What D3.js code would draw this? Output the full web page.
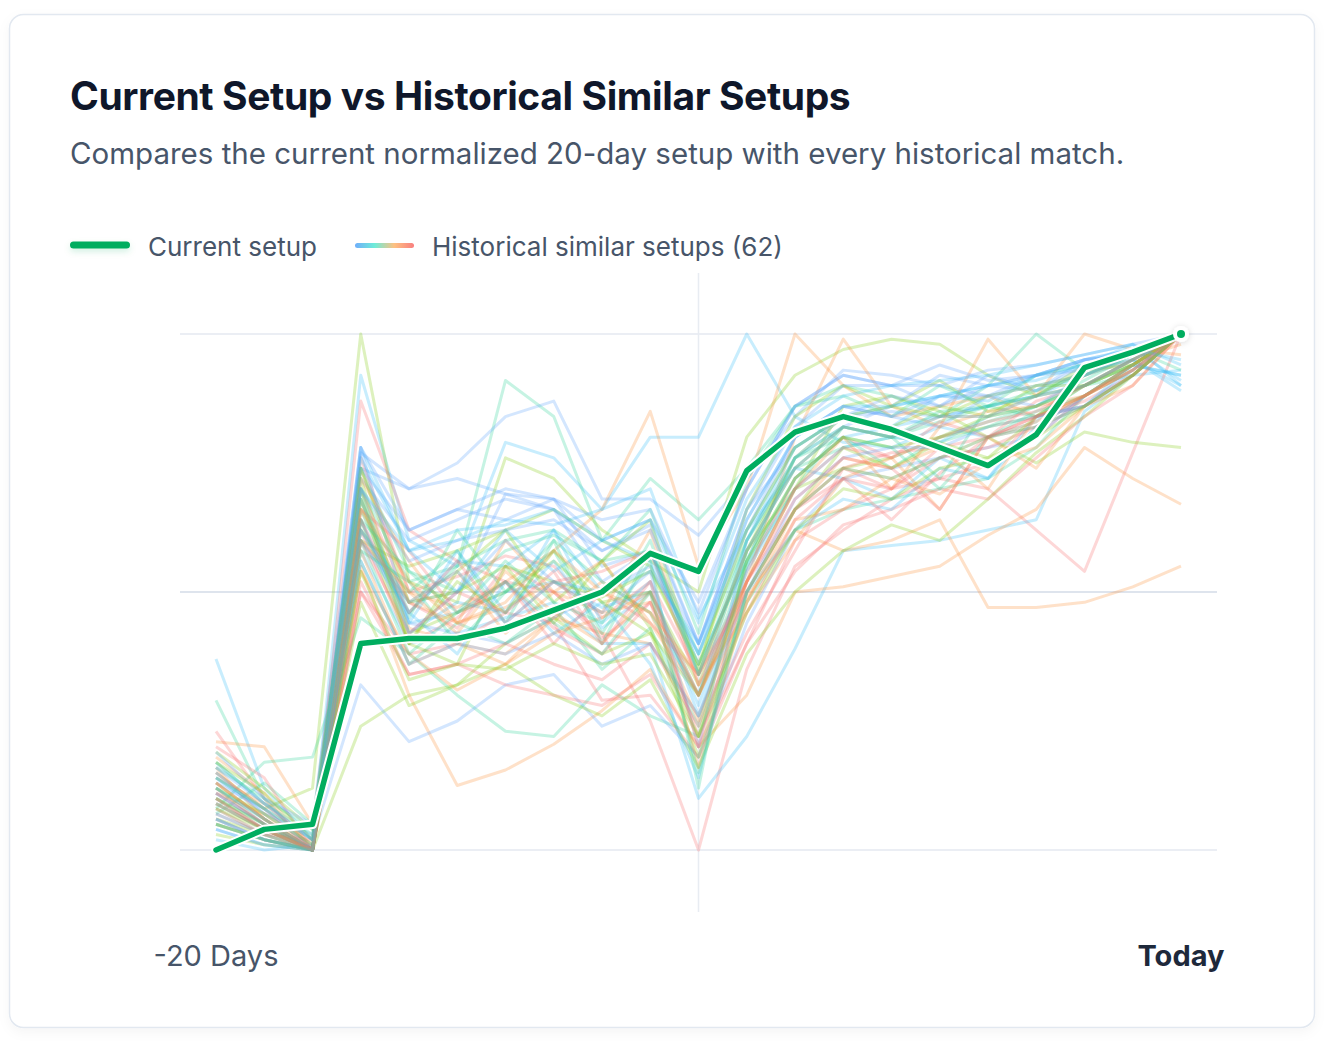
<!DOCTYPE html>
<html>
<head>
<meta charset="utf-8">
<script src="https://cdn.jsdelivr.net/npm/d3@7"></script>
<style>
  body { margin: 0; background: #fff; font-family: Inter, "Noto Sans", sans-serif; }
</style>
</head>
<body>
<svg id="chart" width="1332" height="1050"></svg>
<script>
// x axis: days back from today (-20 .. 0)
const days = d3.range(-20, 1)
const xLabels = ["-20 Days", "Today"]

// current normalized 20-day setup
const current = [0, 0.04, 0.05, 0.40, 0.41, 0.41, 0.43, 0.465, 0.50, 0.575, 0.54, 0.735, 0.81, 0.84, 0.815, 0.78, 0.745, 0.805, 0.935, 0.965, 1]

// historical matches (62), normalized the same way
const historical = [
  [.12,.05,0,.77,.70,.72,.69,.68,.55,.58,.40,.66,.78,.84,.85,.84,.86,.88,.93,.97,1],
  [.37,.12,.02,.92,.60,.55,.79,.76,.66,.80,.80,1,.84,.79,.78,.82,.80,.83,.93,.95,.90],
  [.29,.10,0,.68,.46,.55,.91,.84,.60,.72,.64,.74,.86,.90,.88,.84,.90,1,.93,.96,1],
  [.15,.08,.12,1,.52,.48,.76,.72,.62,.56,.50,.80,.92,.97,.99,.98,.92,.88,.94,.96,1],
  [.21,.20,.05,.74,.50,.47,.52,.58,.66,.85,.55,.70,1,.90,.84,.86,.88,.84,.92,.95,.98],
  [.23,.10,0,.87,.62,.56,.52,.50,.42,.25,0,.35,.55,.62,.68,.72,.70,.62,.54,.77,1],
  [.17,.09,.02,.74,.70,.75,.84,.87,.68,.68,.61,.72,.84,.93,.92,.90,.88,.92,.95,.97,1],
  [.10,.04,0,.58,.40,.42,.45,.48,.40,.40,.10,.22,.39,.58,.59,.60,.62,.64,.85,.92,.93],
  [.08,.17,.18,.45,.38,.30,.23,.22,.32,.26,.22,.48,.62,.66,.68,.70,.72,.78,.88,.94,1],
  [.06,.03,0,.24,.30,.32,.40,.45,.38,.42,.30,.52,.70,.86,.88,.85,.80,.75,.81,.79,.78],
  [.18,.11,0,.55,.30,.125,.155,.205,.27,.35,.20,.30,.50,.51,.53,.55,.61,.66,.78,.72,.67],
  [.05,.02,0,.50,.38,.40,.46,.44,.29,.30,.18,.40,.60,.66,.70,.72,.75,.80,.88,.94,1],
  [.14,.07,.03,.60,.48,.50,.69,.66,.52,.58,.36,.56,.76,.82,.86,.92,.90,.89,.94,.96,1],
  [.11,.05,0,.64,.44,.46,.50,.52,.47,.50,.28,.55,.72,.80,.82,.84,.86,.88,.92,.95,.89],
  [.07,.13,.05,.70,.52,.55,.60,.62,.56,.58,.38,.60,.74,.78,.80,.79,.82,.86,.91,.96,1],
  [.19,.12,.04,.72,.42,.46,.50,.56,.48,.50,.32,.58,.70,.74,.76,.80,.82,.84,.90,.94,1],
  [.16,.06,0,.66,.48,.44,.47,.52,.46,.48,.30,.49,.62,.58,.60,.64,.47,.47,.48,.51,.55],
  [.09,.04,0,.76,.50,.53,.57,.55,.45,.52,.34,.52,.66,.74,.77,.78,.80,.82,.88,.93,1],
  [.13,.08,.02,.32,.21,.25,.32,.34,.24,.28,.18,.44,.62,.72,.74,.76,.78,.80,.88,.94,1],
  [.04,.01,0,.78,.58,.60,.64,.63,.66,.70,.45,.62,.78,.84,.86,.88,.90,.92,.95,.97,.91],
  [.12,.06,0,.56,.36,.44,.40,.47,.35,.43,.24,.55,.70,.82,.80,.83,.86,.84,.90,.92,1],
  [.10,.05,0,.60,.55,.58,.62,.66,.60,.55,.35,.66,.84,.90,.86,.91,.85,.88,.93,.94,1],
  [.14,.09,.01,.68,.43,.40,.38,.45,.52,.46,.25,.52,.80,.99,.86,.82,.99,.88,1,.97,.96],
  [.20,.14,0,.62,.40,.45,.52,.43,.38,.48,.22,.42,.58,.74,.70,.78,.74,.84,.87,.92,1],
  [.08,.03,0,.72,.60,.64,.68,.66,.58,.63,.40,.66,.82,.90,.90,.86,.92,.89,.95,.96,1],
  [.05,.02,0,.62,.46,.56,.55,.62,.50,.54,.40,.62,.74,.72,.68,.76,.72,.84,.86,.94,.92],
  [.16,.10,.04,.74,.54,.50,.58,.61,.56,.66,.42,.72,.86,.88,.84,.90,.86,.92,.94,.97,.93],
  [.03,.01,0,.48,.28,.32,.36,.30,.26,.33,.16,.38,.50,.58,.63,.60,.68,.77,.84,.92,1],
  [.11,.07,0,.58,.36,.40,.36,.45,.42,.40,.26,.48,.64,.66,.72,.69,.75,.78,.86,.90,1],
  [.07,.03,.02,.70,.48,.43,.55,.50,.41,.48,.30,.54,.72,.80,.76,.83,.80,.87,.90,.95,1],
  [.11,.05,0,.78,.62,.66,.70,.68,.64,.66,.46,.70,.86,.92,.90,.90,.93,.94,.96,.98,1],
  [.14,.08,0,.70,.42,.48,.46,.56,.43,.50,.30,.60,.78,.84,.82,.88,.87,.92,.94,.98,.90],
  [.09,.04,0,.66,.45,.62,.50,.60,.40,.58,.36,.56,.76,.80,.74,.80,.83,.86,.90,.95,1],
  [.13,.06,0,.64,.40,.36,.55,.44,.56,.43,.18,.50,.66,.78,.74,.79,.76,.84,.88,.93,1],
  [.10,.04,0,.72,.56,.44,.60,.50,.46,.62,.32,.46,.60,.72,.76,.66,.80,.74,.86,.92,1],
  [.06,.02,0,.52,.34,.36,.32,.30,.28,.34,.20,.40,.54,.63,.66,.70,.68,.76,.84,.90,1],
  [.19,.10,.05,.78,.44,.42,.40,.45,.50,.55,.38,.62,.80,.86,.84,.82,.88,.86,.92,.96,1],
  [.02,0,.01,.60,.46,.38,.52,.42,.48,.36,.14,.50,.62,.68,.66,.74,.72,.82,.88,.94,1],
  [.17,.09,.03,.62,.50,.58,.44,.60,.52,.46,.30,.56,.72,.80,.78,.70,.80,.85,.88,.94,1],
  [.08,.04,0,.68,.40,.54,.62,.48,.56,.64,.34,.58,.76,.84,.82,.86,.84,.90,.90,.94,1],
  [.12,.05,0,.54,.38,.31,.36,.42,.45,.50,.16,.48,.66,.74,.72,.76,.80,.83,.88,.94,1],
  [.15,.08,0,.66,.58,.46,.52,.40,.50,.44,.34,.50,.66,.72,.64,.73,.80,.84,.86,.92,1],
  [.06,.02,0,.74,.62,.66,.64,.68,.60,.64,.48,.70,.86,.92,.90,.94,.91,.92,.95,.96,1],
  [.09,.04,0,.68,.44,.58,.46,.62,.44,.52,.26,.54,.70,.78,.80,.79,.84,.86,.90,.94,.92],
  [.05,.02,0,.58,.52,.40,.50,.58,.42,.56,.12,.58,.74,.82,.80,.85,.86,.88,.90,.95,1],
  [.17,.11,.02,.74,.48,.50,.55,.52,.49,.54,.36,.62,.78,.84,.86,.84,.88,.90,.92,.96,1],
  [.13,.06,0,.62,.48,.54,.42,.50,.56,.44,.30,.52,.70,.80,.70,.82,.85,.86,.88,.93,1],
  [.11,.05,0,.50,.34,.36,.40,.36,.33,.40,.24,.46,.64,.72,.70,.76,.78,.82,.86,.92,1],
  [.15,.07,.01,.64,.42,.50,.60,.52,.46,.54,.20,.60,.76,.84,.88,.86,.90,.92,.93,.96,1],
  [.07,.03,0,.76,.58,.62,.63,.66,.60,.64,.44,.68,.82,.88,.90,.91,.92,.94,.96,.98,.94],
  [.10,.05,0,.64,.54,.46,.56,.48,.44,.60,.34,.60,.76,.82,.80,.72,.86,.89,.92,.96,1],
  [.12,.07,.01,.70,.40,.52,.46,.58,.48,.42,.22,.56,.72,.80,.78,.80,.84,.86,.90,.94,1],
  [.09,.04,0,.60,.50,.42,.54,.46,.40,.50,.30,.50,.66,.76,.74,.78,.70,.84,.88,.94,1],
  [.13,.06,0,.64,.46,.56,.44,.52,.54,.58,.32,.52,.70,.78,.76,.80,.83,.85,.90,.95,1],
  [.04,.01,0,.56,.36,.40,.38,.42,.36,.40,.26,.50,.68,.76,.78,.78,.82,.84,.86,.93,1],
  [.12,.06,0,.70,.58,.50,.62,.54,.60,.56,.38,.64,.80,.86,.86,.88,.90,.91,.94,.97,.95],
  [.14,.08,.02,.60,.38,.46,.52,.44,.38,.50,.15,.50,.66,.74,.72,.76,.80,.82,.86,.92,1],
  [.05,.02,0,.54,.33,.36,.35,.40,.36,.38,.22,.46,.62,.70,.68,.74,.76,.80,.86,.92,1],
  [.08,.03,0,.66,.52,.44,.48,.58,.50,.46,.34,.58,.74,.82,.80,.84,.84,.88,.90,.95,1],
  [.10,.04,0,.60,.42,.50,.46,.54,.40,.52,.20,.52,.68,.76,.74,.66,.80,.84,.88,.93,1],
  [.16,.09,.02,.70,.56,.60,.62,.64,.58,.62,.40,.64,.80,.86,.84,.88,.88,.90,.92,.96,1],
  [.06,.02,0,.62,.48,.54,.44,.52,.50,.58,.34,.58,.74,.82,.80,.84,.84,.88,.90,.95,1]
]

const palette = ["#60a5fa", "#38bdf8", "#34d399", "#84cc16", "#fb923c", "#f87171"]

const svg = d3.select('#chart')
const defs = svg.append('defs')

// card shadow
const shadow = defs.append('filter').attr('id', 'cardShadow')
    .attr('x', '-5%').attr('y', '-5%').attr('width', '110%').attr('height', '110%')
shadow.append('feDropShadow').attr('dx', 0).attr('dy', 4).attr('stdDeviation', 6)
    .attr('flood-color', '#0f172a').attr('flood-opacity', 0.04)

const dotShadow = defs.append('filter').attr('id', 'dotShadow')
    .attr('x', '-100%').attr('y', '-100%').attr('width', '300%').attr('height', '300%')
dotShadow.append('feDropShadow').attr('dx', 0).attr('dy', 1).attr('stdDeviation', 3)
    .attr('flood-color', '#0f172a').attr('flood-opacity', 0.15)

const legendGlow = defs.append('filter').attr('id', 'legendGlow')
    .attr('x', '-30%').attr('y', '-300%').attr('width', '160%').attr('height', '700%')
legendGlow.append('feDropShadow').attr('dx', 0).attr('dy', 3).attr('stdDeviation', 3)
    .attr('flood-color', '#00ad5f').attr('flood-opacity', 0.18)

const grad = defs.append('linearGradient').attr('id', 'histGrad')
grad.selectAll('stop')
    .data(["#60a5fa", "#5eead4", "#fdba74", "#f87171"])
    .join('stop')
    .attr('offset', (d, i) => `${i / 3 * 100}%`)
    .attr('stop-color', d => d)

svg.append('rect')
    .attr('x', 9.5).attr('y', 14.5)
    .attr('width', 1305).attr('height', 1013)
    .attr('rx', 14)
    .attr('fill', '#fff')
    .attr('stroke', '#e2e8f0')
    .attr('stroke-width', 1.5)
    .attr('filter', 'url(#cardShadow)')

// title block
svg.append('text')
    .attr('x', 70).attr('y', 110)
    .attr('font-size', 39).attr('font-weight', 700)
    .attr('letter-spacing', -0.4)
    .attr('fill', '#0f172a')
    .text('Current Setup vs Historical Similar Setups')

svg.append('text')
    .attr('x', 70).attr('y', 164)
    .attr('font-size', 29.5)
    .attr('fill', '#475569')
    .text('Compares the current normalized 20-day setup with every historical match.')

// legend
const legend = svg.append('g')
legend.append('rect')
    .attr('x', 70).attr('y', 241.5).attr('width', 60).attr('height', 7).attr('rx', 3.5)
    .attr('fill', '#00ad5f')
    .attr('filter', 'url(#legendGlow)')
legend.append('text')
    .attr('x', 148).attr('y', 256)
    .attr('font-size', 26).attr('fill', '#475569')
    .text('Current setup')
legend.append('rect')
    .attr('x', 355).attr('y', 243).attr('width', 59).attr('height', 5).attr('rx', 2.5)
    .attr('fill', 'url(#histGrad)').attr('opacity', 0.9)
legend.append('text')
    .attr('x', 432).attr('y', 256)
    .attr('font-size', 26).attr('fill', '#475569')
    .text(`Historical similar setups (${historical.length})`)

// scales
const x = d3.scaleLinear().domain([-20, 0]).range([216, 1181])
const y = d3.scaleLinear().domain([0, 1]).range([850, 334])

const grid = svg.append('g')
grid.selectAll('line.h')
    .data([0, 0.5, 1])
    .join('line')
    .attr('class', 'h')
    .attr('x1', 180).attr('x2', 1217)
    .attr('y1', d => y(d)).attr('y2', d => y(d))
    .attr('stroke', d => d === 0.5 ? '#d3dbe7' : '#e5e9f1')
    .attr('stroke-width', 1.5)
grid.append('line')
    .attr('x1', x(-10)).attr('x2', x(-10))
    .attr('y1', 273).attr('y2', 912)
    .attr('stroke', '#e8ecf2').attr('stroke-width', 1.5)

const line = d3.line()
    .x((d, i) => x(days[i]))
    .y(d => y(d))

svg.append('g')
    .attr('fill', 'none')
    .attr('stroke-width', 3)
    .attr('stroke-linejoin', 'round')
    .attr('stroke-opacity', 0.28)
    .selectAll('path')
    .data(historical)
    .join('path')
    .attr('stroke', (d, i) => palette[i % palette.length])
    .attr('d', line)

// current setup, with white halo
svg.append('path')
    .datum(current)
    .attr('fill', 'none')
    .attr('stroke', '#fff')
    .attr('stroke-width', 9.5)
    .attr('stroke-linejoin', 'round')
    .attr('stroke-linecap', 'round')
    .attr('d', line)
svg.append('path')
    .datum(current)
    .attr('fill', 'none')
    .attr('stroke', '#00ad5f')
    .attr('stroke-width', 5.5)
    .attr('stroke-linejoin', 'round')
    .attr('stroke-linecap', 'round')
    .attr('d', line)

const last = current.length - 1
svg.append('circle')
    .attr('cx', x(days[last])).attr('cy', y(current[last]))
    .attr('r', 8).attr('fill', '#fff')
    .attr('filter', 'url(#dotShadow)')
svg.append('circle')
    .attr('cx', x(days[last])).attr('cy', y(current[last]))
    .attr('r', 4).attr('fill', '#00ad5f')

// x labels
svg.append('text')
    .attr('x', x(-20)).attr('y', 966)
    .attr('text-anchor', 'middle')
    .attr('font-size', 29).attr('fill', '#475569')
    .text(xLabels[0])
svg.append('text')
    .attr('x', x(0)).attr('y', 966)
    .attr('text-anchor', 'middle')
    .attr('font-size', 29).attr('font-weight', 700).attr('fill', '#1e293b')
    .text(xLabels[1])
</script>
</body>
</html>
